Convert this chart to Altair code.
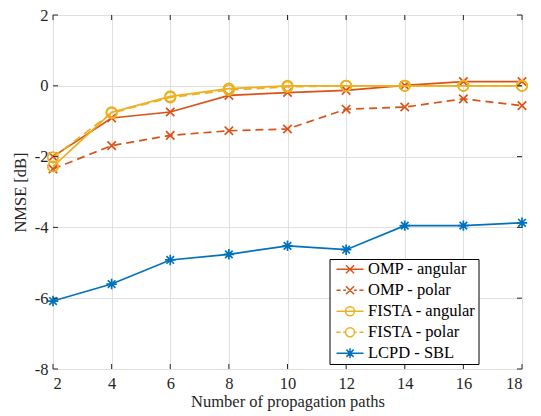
import altair as alt
import pandas as pd

# Number of propagation paths
paths = [2, 4, 6, 8, 10, 12, 14, 16, 18]

# NMSE [dB] per method
omp_angular = [-2.00, -0.91, -0.74, -0.27, -0.19, -0.13, 0.01, 0.12, 0.12]
omp_polar = [-2.35, -1.69, -1.40, -1.27, -1.22, -0.66, -0.60, -0.37, -0.56]
fista_angular = [-2.28, -0.75, -0.30, -0.08, 0.00, 0.00, 0.00, 0.00, 0.00]
fista_polar = [-2.02, -0.77, -0.33, -0.12, -0.03, 0.00, 0.00, 0.00, 0.00]
lcpd_sbl = [-6.08, -5.60, -4.92, -4.76, -4.52, -4.63, -3.95, -3.95, -3.87]

series_names = ["OMP - angular", "OMP - polar", "FISTA - angular", "FISTA - polar", "LCPD - SBL"]
series_values = [omp_angular, omp_polar, fista_angular, fista_polar, lcpd_sbl]
series_colors = ["#D95319", "#D95319", "#EDB120", "#EDB120", "#0072BD"]
series_dashed = [False, True, False, True, False]
markers = ["x", "x", "o", "o", "*"]

x_ticks = [2, 4, 6, 8, 10, 12, 14, 16, 18]
y_ticks = [-8, -6, -4, -2, 0, 2]

FONT = "Liberation Serif"
FS = 16.5
W, H = 469, 354
AXIS_COLOR = "#262626"

# Marker outlines (unit paths, scaled by the symbol size)
X_PATH = "M-1,-1L1,1M-1,1L1,-1"
STAR_PATH = "M-1,0L1,0M0,-1L0,1M-0.72,-0.72L0.72,0.72M-0.72,0.72L0.72,-0.72"

rows = []
for name, vals in zip(series_names, series_values):
    for p, v in zip(paths, vals):
        rows.append({"paths": p, "nmse": v, "series": name})
df = pd.DataFrame(rows)

x_scale = alt.Scale(domain=[2, 18], nice=False, zero=False)
y_scale = alt.Scale(domain=[-8, 2], nice=False, zero=False)
color_scale = alt.Scale(domain=series_names, range=series_colors)


# Legend symbols: line segment (solid or broken) with the marker in its middle
def legend_path(marker, dashed):
    a, b = -0.72, 5.28
    m = (a + b) / 2
    if dashed:
        seg = (f"M{a:.2f},0H{a + 0.9:.2f}M{a + 1.5:.2f},0H{m - 0.9:.2f}"
               f"M{m + 0.9:.2f},0H{b - 1.5:.2f}M{b - 0.9:.2f},0H{b:.2f}")
    else:
        seg = f"M{a:.2f},0H{b:.2f}"
    if marker == "x":
        mk = f"M{m - 0.9:.2f},-0.9L{m + 0.9:.2f},0.9M{m - 0.9:.2f},0.9L{m + 0.9:.2f},-0.9"
    elif marker == "o":
        r = 1.0
        mk = f"M{m + r:.2f},0A{r},{r} 0 1,1 {m - r:.2f},0A{r},{r} 0 1,1 {m + r:.2f},0"
    else:
        mk = (f"M{m - 1.1:.2f},0L{m + 1.1:.2f},0M{m:.2f},-1.1L{m:.2f},1.1"
              f"M{m - 0.8:.2f},-0.8L{m + 0.8:.2f},0.8M{m - 0.8:.2f},0.8L{m + 0.8:.2f},-0.8")
    return seg + mk


legend_paths = [legend_path(mk, d) for mk, d in zip(markers, series_dashed)]
shape_expr = "".join(
    f"datum.value === '{n}' ? '{p}' : " for n, p in zip(series_names[:-1], legend_paths[:-1])
) + f"'{legend_paths[-1]}'"

legend = alt.Legend(
    orient="none",
    legendX=276.5,
    legendY=244,
    title=None,
    symbolType=alt.ExprRef(expr=shape_expr),
    symbolSize=81,
    symbolStrokeWidth=1.5,
    symbolFillColor="transparent",
    symbolOpacity=1,
    labelOffset=20,
    labelFont=FONT,
    labelFontSize=FS,
    labelColor="black",
    labelLimit=300,
    fillColor="white",
    strokeColor="black",
    padding=2,
    rowPadding=4,
)

base = alt.Chart(df)

axis_text = dict(
    labelFont=FONT,
    labelFontSize=FS,
    labelColor=AXIS_COLOR,
    titleFont=FONT,
    titleFontSize=FS,
    titleFontWeight="normal",
    titleColor=AXIS_COLOR,
    gridColor="#dfdfdf",
    gridWidth=1,
    gridOpacity=1,
)

x_enc = alt.X(
    "paths:Q",
    scale=x_scale,
    axis=alt.Axis(
        values=x_ticks,
        title="Number of propagation paths",
        grid=True,
        ticks=False,
        domain=False,
        labelPadding=6,
        titlePadding=2,
        **axis_text,
    ),
)
y_enc = alt.Y(
    "nmse:Q",
    scale=y_scale,
    axis=alt.Axis(
        values=y_ticks,
        title="NMSE [dB]",
        grid=True,
        ticks=False,
        domain=False,
        labelPadding=5,
        titlePadding=6,
        labelExpr="replace(datum.label, '\u2212', '-')",
        **axis_text,
    ),
)

layers = []
shape_paths = {"x": X_PATH, "o": "circle", "*": STAR_PATH}
shape_sizes = {"x": 70, "o": 110, "*": 110}
for i, (name, dashed, mk) in enumerate(zip(series_names, series_dashed, markers)):
    sub = base.transform_filter(alt.datum.series == name)
    line_kwargs = dict(strokeWidth=1.7)
    if dashed:
        line_kwargs["strokeDash"] = [8, 5]
    line = sub.mark_line(**line_kwargs).encode(
        x=x_enc,
        y=y_enc,
        color=alt.Color("series:N", scale=color_scale, legend=legend if i == 0 else None),
    )
    pts = sub.mark_point(
        shape=shape_paths[mk], size=shape_sizes[mk], filled=False, strokeWidth=1.7, opacity=1
    ).encode(
        x="paths:Q",
        y="nmse:Q",
        color=alt.Color("series:N", scale=color_scale, legend=None),
    )
    layers += [line, pts]

# Inward tick marks on all four sides of the box
xt = pd.DataFrame({"t": x_ticks})
yt = pd.DataFrame({"t": y_ticks})
tick_style = dict(color=AXIS_COLOR, strokeWidth=1)
ticks_bottom = alt.Chart(xt).mark_rule(**tick_style).encode(
    x=alt.X("t:Q", scale=x_scale), y=alt.value(H - 5), y2=alt.value(H)
)
ticks_top = alt.Chart(xt).mark_rule(**tick_style).encode(
    x=alt.X("t:Q", scale=x_scale), y=alt.value(0), y2=alt.value(5)
)
ticks_left = alt.Chart(yt).mark_rule(**tick_style).encode(
    y=alt.Y("t:Q", scale=y_scale), x=alt.value(0), x2=alt.value(5)
)
ticks_right = alt.Chart(yt).mark_rule(**tick_style).encode(
    y=alt.Y("t:Q", scale=y_scale), x=alt.value(W - 5), x2=alt.value(W)
)

chart = (
    alt.layer(*layers, ticks_bottom, ticks_top, ticks_left, ticks_right)
    .properties(
        width=W,
        height=H,
        autosize=alt.AutoSizeParams(type="none"),
        padding={"left": 53, "top": 15, "right": 19, "bottom": 47},
        background="white",
    )
    .configure_view(stroke=AXIS_COLOR, strokeWidth=1.2)
    .configure_axis(**axis_text)
    .configure(font=FONT)
)

chart.save("out.html", embed_options={"renderer": "svg", "actions": False})
